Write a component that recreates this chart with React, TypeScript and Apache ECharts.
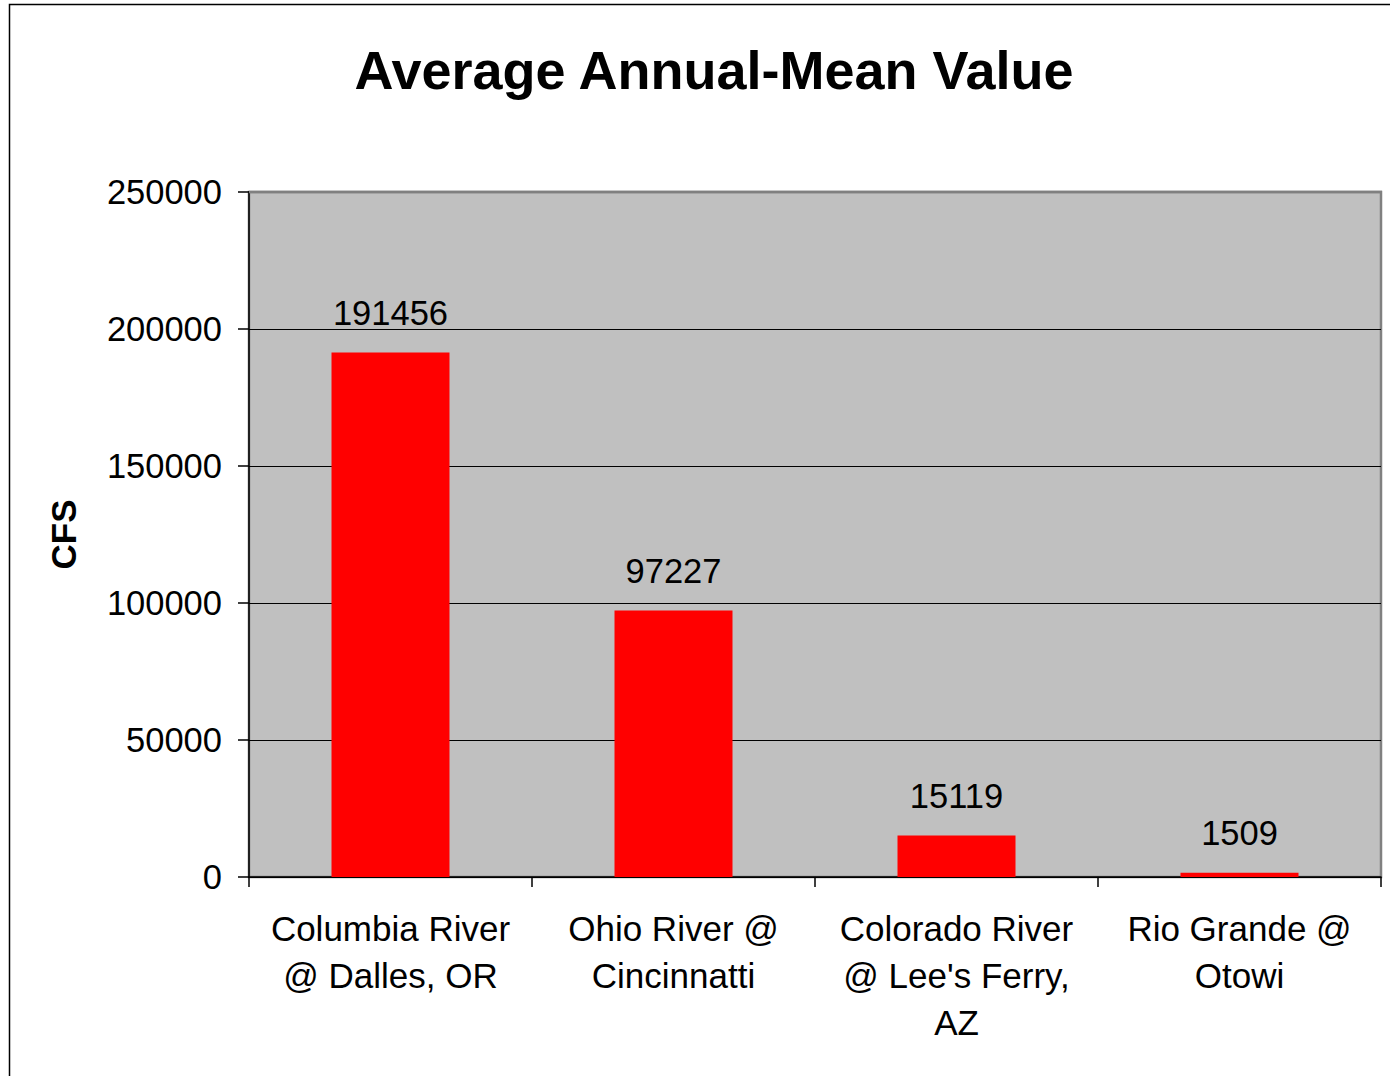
import React, { useEffect, useRef } from "react";
import * as echarts from "echarts";

const categories = [
  "Columbia River\n@ Dalles, OR",
  "Ohio River @\nCincinnatti",
  "Colorado River\n@ Lee's Ferry,\nAZ",
  "Rio Grande @\nOtowi",
];
const values = [191456, 97227, 15119, 1509];
const yMin = 0;
const yMax = 250000;
const yInterval = 50000;

const FONT = "'Liberation Sans', Arial, sans-serif";

export default function App() {
  const ref = useRef<HTMLDivElement>(null);
  useEffect(() => {
    if (!ref.current) return;
    const chart = echarts.init(ref.current, undefined, { renderer: "svg" });
    chart.setOption({
      animation: false,
      backgroundColor: "#ffffff",
      title: {
        text: "Average Annual-Mean Value",
        left: 709,
        textAlign: "center",
        top: 38,
        textStyle: { fontFamily: FONT, fontSize: 54, fontWeight: "bold", color: "#000" },
      },
      graphic: [
        {
          type: "rect",
          shape: { x: 9.5, y: 4.5, width: 1400, height: 1100 },
          style: { fill: "none", stroke: "#000", lineWidth: 1.5 },
          silent: true,
        },
        {
          type: "line",
          shape: { x1: 249, y1: 192, x2: 1382, y2: 192 },
          style: { stroke: "#808080", lineWidth: 2.5 },
          silent: true,
          z: 100,
        },
      ],
      grid: {
        left: 249,
        right: 9,
        top: 192,
        bottom: 199,
        show: true,
        backgroundColor: "#c0c0c0",
        borderColor: "#808080",
        borderWidth: 2.5,
      },
      xAxis: {
        type: "category",
        data: categories,
        axisLine: { show: true, lineStyle: { color: "#000", width: 1.5 } },
        axisTick: { show: true, length: 10, lineStyle: { color: "#000", width: 1.5 } },
        axisLabel: {
          fontFamily: FONT,
          fontSize: 35,
          color: "#000",
          lineHeight: 47,
          margin: 28,
          interval: 0,
        },
      },
      yAxis: {
        type: "value",
        min: yMin,
        max: yMax,
        interval: yInterval,
        name: "CFS",
        nameLocation: "middle",
        nameGap: 168,
        nameTextStyle: { fontFamily: FONT, fontSize: 35, fontWeight: "bold", color: "#000" },
        axisLine: { show: true, lineStyle: { color: "#000", width: 1.5 } },
        axisTick: { show: true, length: 11, lineStyle: { color: "#000", width: 1.5 } },
        axisLabel: {
          fontFamily: FONT,
          fontSize: 34.5,
          color: "#000",
          margin: 27,
          formatter: (v: number) => String(v),
        },
        splitLine: { show: true, lineStyle: { color: "#000", width: 1 } },
      },
      series: [
        {
          type: "bar",
          data: values,
          barWidth: 118,
          itemStyle: { color: "#ff0000" },
          label: {
            show: true,
            position: "top",
            distance: 22,
            fontFamily: FONT,
            fontSize: 34.5,
            color: "#000",
          },
        },
      ],
    });
    return () => chart.dispose();
  }, []);
  return (
    <div
      ref={ref}
      style={{ position: "fixed", left: 0, top: 0, width: 1390, height: 1076 }}
    />
  );
}
